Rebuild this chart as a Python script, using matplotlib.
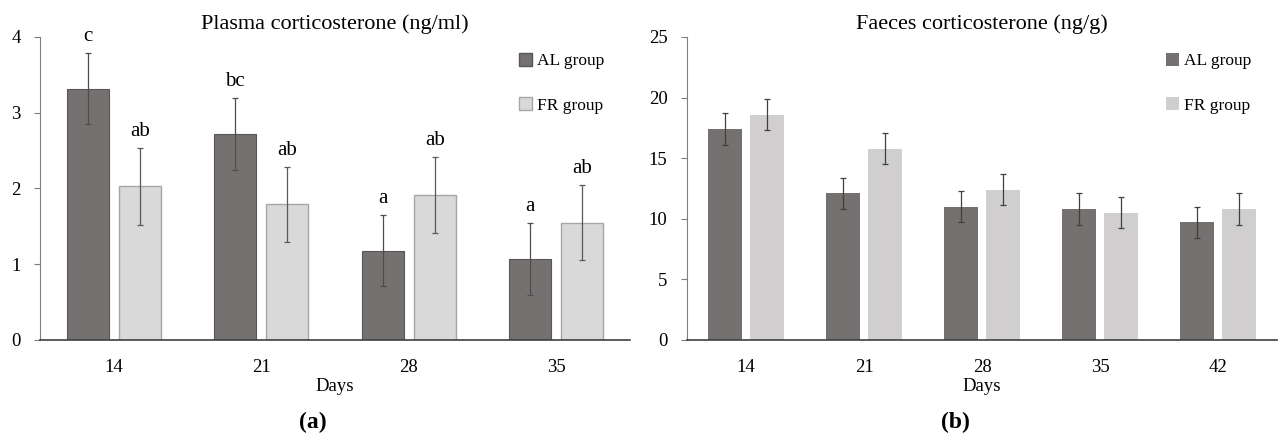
import numpy as np
import matplotlib
matplotlib.use('Agg')
import matplotlib.pyplot as plt
from matplotlib.patches import Patch

plt.rcParams['font.family'] = ['Liberation Serif', 'DejaVu Serif']

# (a) plasma corticosterone, ng/ml
days_a = ['14', '21', '28', '35']
al_a = [3.32, 2.72, 1.18, 1.07]
al_a_err = [0.47, 0.47, 0.47, 0.47]
fr_a = [2.03, 1.79, 1.91, 1.55]
fr_a_err = [0.51, 0.50, 0.50, 0.50]
al_a_lab = ['c', 'bc', 'a', 'a']
fr_a_lab = ['ab', 'ab', 'ab', 'ab']

# (b) faeces corticosterone, ng/g
days_b = ['14', '21', '28', '35', '42']
al_b = [17.4, 12.1, 11.0, 10.8, 9.7]
al_b_err = [1.3, 1.3, 1.3, 1.3, 1.3]
fr_b = [18.6, 15.8, 12.4, 10.5, 10.8]
fr_b_err = [1.3, 1.3, 1.3, 1.3, 1.3]

AL_COL = '#767171'
FR_COL_A = '#d9d9d9'
FR_COL_B = '#d0cece'

fig = plt.figure(figsize=(12.8, 4.42), dpi=100)
axa = fig.add_axes([40/1280, 102/442, 590/1280, 303/442])
axb = fig.add_axes([687/1280, 102/442, 590/1280, 303/442])


def style_ax(ax, n, ymax, yticks):
    ax.set_xlim(-0.5, n - 0.5)
    ax.set_ylim(0, ymax)
    ax.set_yticks(yticks)
    for s in ['top', 'right']:
        ax.spines[s].set_visible(False)
    ax.spines['left'].set_color('#7f7f7f')
    ax.spines['bottom'].set_color('#404040')
    ax.spines['bottom'].set_linewidth(1.2)
    ax.tick_params(axis='x', length=0, labelsize=13.5, pad=14)
    ax.tick_params(axis='y', length=4, color='#7f7f7f', labelsize=13.5, pad=10)
    ax.set_xlabel('Days', fontsize=13.5, labelpad=1)


# panel a
xa = np.arange(len(days_a))
w, off = 0.285, 0.176
axa.bar(xa - off, al_a, w, color=AL_COL, edgecolor='#5a5656', linewidth=0.8)
axa.bar(xa + off, fr_a, w, color=FR_COL_A, edgecolor='#a6a6a6', linewidth=1.0)
axa.errorbar(xa - off, al_a, yerr=al_a_err, fmt='none', ecolor='#4d4d4d',
             elinewidth=0.9, capsize=2, capthick=0.9)
axa.errorbar(xa + off, fr_a, yerr=fr_a_err, fmt='none', ecolor='#595959',
             elinewidth=0.9, capsize=2, capthick=0.9)
for i in range(len(days_a)):
    axa.annotate(al_a_lab[i], (xa[i] - off, al_a[i] + al_a_err[i]),
                 xytext=(0, 5), textcoords='offset points', ha='center',
                 va='bottom', fontsize=15)
    axa.annotate(fr_a_lab[i], (xa[i] + off, fr_a[i] + fr_a_err[i]),
                 xytext=(0, 5), textcoords='offset points', ha='center',
                 va='bottom', fontsize=15)
axa.set_xticks(xa)
axa.set_xticklabels(days_a)
style_ax(axa, len(days_a), 4, [0, 1, 2, 3, 4])
axa.set_title('Plasma corticosterone (ng/ml)', fontsize=16, pad=6)
axa.legend(handles=[Patch(facecolor=AL_COL, edgecolor='#5a5656', label='AL group'),
                    Patch(facecolor=FR_COL_A, edgecolor='#a6a6a6', label='FR group')],
           loc='upper left', bbox_to_anchor=(0.80, 0.97), frameon=False,
           fontsize=12.5, handlelength=0.75, handleheight=0.75,
           handletextpad=0.3, labelspacing=1.6, borderaxespad=0)

# panel b
xb = np.arange(len(days_b))
wb, offb = 0.28, 0.178
axb.bar(xb - offb, al_b, wb, color=AL_COL)
axb.bar(xb + offb, fr_b, wb, color=FR_COL_B)
axb.errorbar(xb - offb, al_b, yerr=al_b_err, fmt='none', ecolor='#404040',
             elinewidth=0.9, capsize=2, capthick=0.9)
axb.errorbar(xb + offb, fr_b, yerr=fr_b_err, fmt='none', ecolor='#404040',
             elinewidth=0.9, capsize=2, capthick=0.9)
axb.set_xticks(xb)
axb.set_xticklabels(days_b)
style_ax(axb, len(days_b), 25, [0, 5, 10, 15, 20, 25])
axb.set_title('Faeces corticosterone (ng/g)', fontsize=16, pad=6)
axb.legend(handles=[Patch(facecolor=AL_COL, label='AL group'),
                    Patch(facecolor=FR_COL_B, label='FR group')],
           loc='upper left', bbox_to_anchor=(0.80, 0.97), frameon=False,
           fontsize=12.5, handlelength=0.75, handleheight=0.75,
           handletextpad=0.3, labelspacing=1.6, borderaxespad=0)

fig.text(313/1280, 1 - 422/442, '(a)', ha='center', va='center',
         fontsize=17, fontweight='bold')
fig.text(955/1280, 1 - 422/442, '(b)', ha='center', va='center',
         fontsize=17, fontweight='bold')

fig.savefig('out.png', dpi=100)
